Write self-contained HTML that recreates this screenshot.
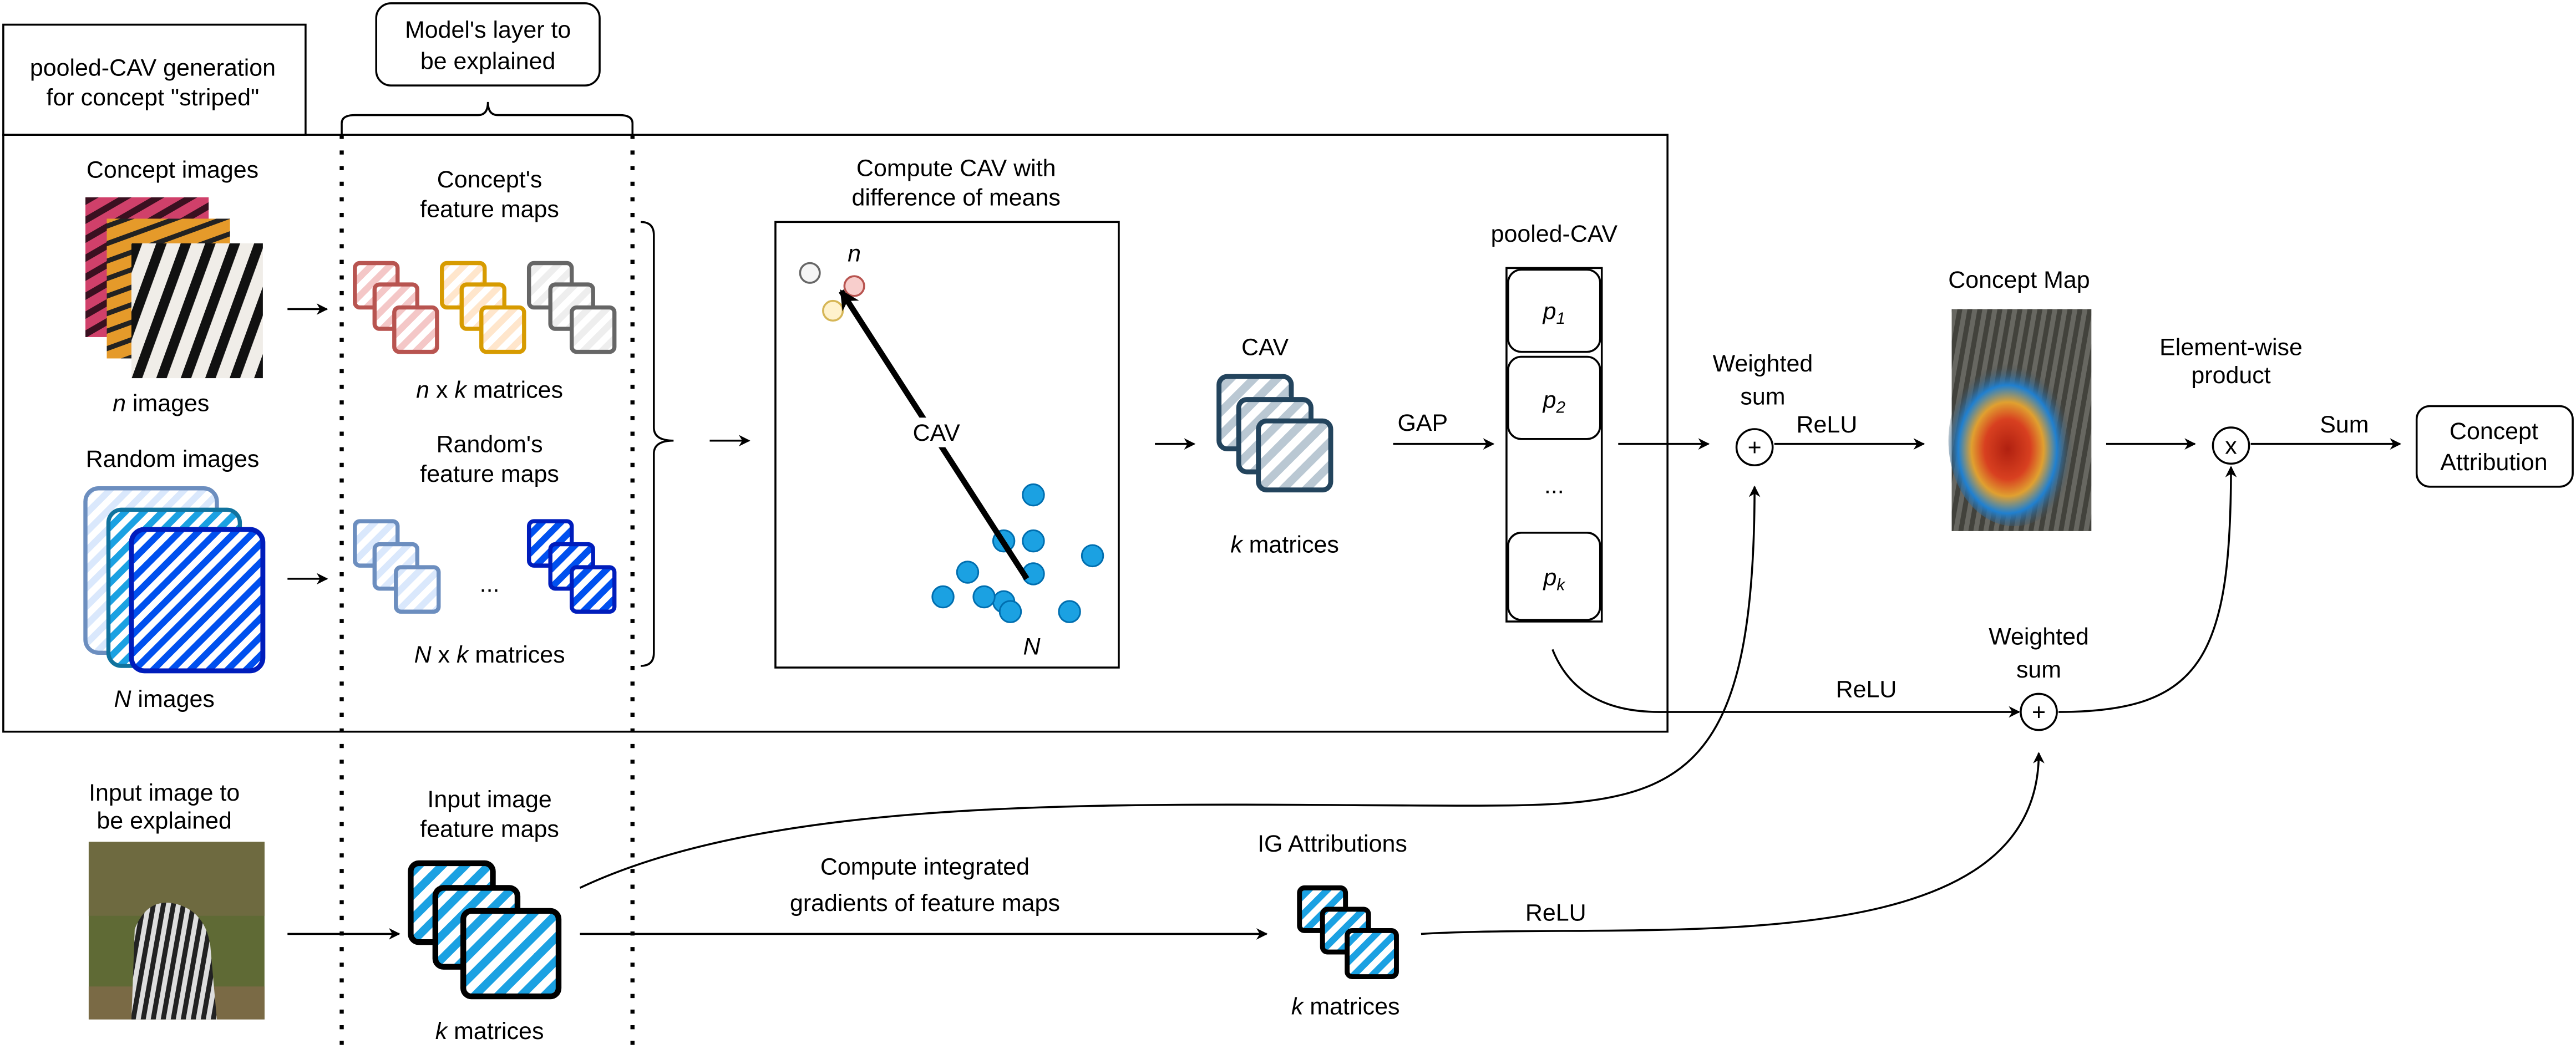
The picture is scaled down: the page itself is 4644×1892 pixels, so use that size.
<!DOCTYPE html>
<html><head><meta charset="utf-8"><style>
html,body{margin:0;padding:0;background:#fff}
svg{display:block}
text{font-family:"Liberation Sans",sans-serif;font-size:14.5px;fill:#000;text-anchor:middle}
.i{font-style:italic}
</style></head><body>
<svg width="4644" height="1892" viewBox="0 0 1568 638" preserveAspectRatio="none" xmlns="http://www.w3.org/2000/svg">
<defs>
<marker id="ar" viewBox="0 0 10 10" refX="9" refY="5" markerWidth="7" markerHeight="7" orient="auto" markerUnits="userSpaceOnUse"><path d="M0,0 L10,5 L0,10 L3,5z" fill="#000"/></marker>
<marker id="ar2" viewBox="0 0 10 10" refX="9" refY="5" markerWidth="12" markerHeight="12" orient="auto" markerUnits="userSpaceOnUse"><path d="M0,0 L10,5 L0,10 L3,5z" fill="#000"/></marker>
<pattern id="pr" width="8" height="8" patternUnits="userSpaceOnUse" patternTransform="rotate(45)"><rect width="8" height="8" fill="#fff"/><rect width="4" height="8" fill="#f4c7c7"/></pattern>
<pattern id="po" width="8" height="8" patternUnits="userSpaceOnUse" patternTransform="rotate(45)"><rect width="8" height="8" fill="#fff"/><rect width="4" height="8" fill="#ffe6cc"/></pattern>
<pattern id="pg" width="8" height="8" patternUnits="userSpaceOnUse" patternTransform="rotate(45)"><rect width="8" height="8" fill="#fff"/><rect width="4" height="8" fill="#eeeeee"/></pattern>
<pattern id="pl" width="8" height="8" patternUnits="userSpaceOnUse" patternTransform="rotate(45)"><rect width="8" height="8" fill="#fff"/><rect width="4" height="8" fill="#dae8fc"/></pattern>
<pattern id="pm" width="8" height="8" patternUnits="userSpaceOnUse" patternTransform="rotate(45)"><rect width="8" height="8" fill="#fff"/><rect width="4" height="8" fill="#1ba1e2"/></pattern>
<pattern id="pd" width="8" height="8" patternUnits="userSpaceOnUse" patternTransform="rotate(45)"><rect width="8" height="8" fill="#fff"/><rect width="4" height="8" fill="#0050ef"/></pattern>
<pattern id="pc" width="10" height="10" patternUnits="userSpaceOnUse" patternTransform="rotate(45)"><rect width="10" height="10" fill="#fff"/><rect width="5" height="10" fill="#bac8d3"/></pattern>
<pattern id="pb" width="10" height="10" patternUnits="userSpaceOnUse" patternTransform="rotate(45)"><rect width="10" height="10" fill="#fff"/><rect width="5" height="10" fill="#1ba1e2"/></pattern>
<pattern id="zeb" width="14" height="14" patternUnits="userSpaceOnUse" patternTransform="rotate(20)"><rect width="14" height="14" fill="#f0ede8"/><rect width="6" height="14" fill="#111"/></pattern>
<pattern id="tig" width="10" height="10" patternUnits="userSpaceOnUse" patternTransform="rotate(70)"><rect width="10" height="10" fill="#e59a2a"/><rect width="3" height="10" fill="#222"/></pattern>
<pattern id="pnk" width="10" height="10" patternUnits="userSpaceOnUse" patternTransform="rotate(60)"><rect width="10" height="10" fill="#d0406a"/><rect width="4" height="10" fill="#3a1020"/></pattern>
<pattern id="zsm" width="6" height="6" patternUnits="userSpaceOnUse" patternTransform="rotate(10)"><rect width="6" height="6" fill="#ddd"/><rect width="3" height="6" fill="#222"/></pattern>
<radialGradient id="heat" cx="0.45" cy="0.55" r="0.5"><stop offset="0" stop-color="#b02010"/><stop offset="0.35" stop-color="#d84020"/><stop offset="0.55" stop-color="#e0a030"/><stop offset="0.75" stop-color="#2080d0"/><stop offset="1" stop-color="#4a4a45" stop-opacity="0"/></radialGradient>
</defs>

<rect x="2" y="15" width="184" height="67" fill="none" stroke="#000" stroke-width="1.2"/>
<text x="93" y="46">pooled-CAV generation</text>
<text x="93" y="64">for concept "striped"</text>
<rect x="2" y="82" width="1013" height="363" fill="none" stroke="#000" stroke-width="1.2"/>
<rect x="229" y="2" width="136" height="50" rx="9" fill="#fff" stroke="#000" stroke-width="1.2"/>
<text x="297" y="23">Model's layer to</text>
<text x="297" y="42">be explained</text>
<path d="M208,82 V75 Q208,70 216,70 H291 Q297,70 297,62 Q297,70 303,70 H377 Q385,70 385,75 V82" fill="none" stroke="#000" stroke-width="1.2"/>
<line x1="208" y1="82" x2="208" y2="638" stroke="#000" stroke-width="2.5" stroke-dasharray="2.5,7"/>
<line x1="385" y1="82" x2="385" y2="638" stroke="#000" stroke-width="2.5" stroke-dasharray="2.5,7"/>

<text x="105" y="108">Concept images</text>
<rect x="52" y="120" width="75" height="85" fill="url(#pnk)"/>
<rect x="65" y="133" width="75" height="85" fill="url(#tig)"/>
<rect x="80" y="148" width="80" height="82" fill="url(#zeb)"/>
<text x="98" y="250"><tspan class="i">n</tspan> images</text>
<line x1="175" y1="188" x2="199" y2="188" stroke="#000" stroke-width="1.2" marker-end="url(#ar)"/>

<text x="105" y="284">Random images</text>
<rect x="52" y="297" width="80" height="100" rx="8" fill="url(#pl)" stroke="#6c8ebf" stroke-width="2.5"/>
<rect x="66" y="310" width="80" height="95" rx="8" fill="url(#pm)" stroke="#10739e" stroke-width="2.5"/>
<rect x="80" y="322" width="80" height="86" rx="8" fill="url(#pd)" stroke="#001dbc" stroke-width="3"/>
<text x="100" y="430"><tspan class="i">N</tspan> images</text>
<line x1="175" y1="352" x2="199" y2="352" stroke="#000" stroke-width="1.2" marker-end="url(#ar)"/>

<text x="298" y="114">Concept's</text>
<text x="298" y="132">feature maps</text>
<g stroke-width="2.5">
<rect x="216" y="160" width="26" height="27" rx="3" fill="url(#pr)" stroke="#b85450"/>
<rect x="228" y="173" width="26" height="27" rx="3" fill="url(#pr)" stroke="#b85450"/>
<rect x="240" y="187" width="26" height="27" rx="3" fill="url(#pr)" stroke="#b85450"/>
<rect x="269" y="160" width="26" height="27" rx="3" fill="url(#po)" stroke="#d79b00"/>
<rect x="281" y="173" width="26" height="27" rx="3" fill="url(#po)" stroke="#d79b00"/>
<rect x="293" y="187" width="26" height="27" rx="3" fill="url(#po)" stroke="#d79b00"/>
<rect x="322" y="160" width="26" height="27" rx="3" fill="url(#pg)" stroke="#666"/>
<rect x="335" y="173" width="26" height="27" rx="3" fill="url(#pg)" stroke="#666"/>
<rect x="348" y="187" width="26" height="27" rx="3" fill="url(#pg)" stroke="#666"/>
</g>
<text x="298" y="242"><tspan class="i">n</tspan> x <tspan class="i">k</tspan> matrices</text>

<text x="298" y="275">Random's</text>
<text x="298" y="293">feature maps</text>
<g stroke-width="2.5">
<rect x="216" y="317" width="26" height="27" rx="3" fill="url(#pl)" stroke="#6c8ebf"/>
<rect x="228" y="331" width="26" height="27" rx="3" fill="url(#pl)" stroke="#6c8ebf"/>
<rect x="241" y="345" width="26" height="27" rx="3" fill="url(#pl)" stroke="#6c8ebf"/>
<rect x="322" y="317" width="26" height="27" rx="3" fill="url(#pd)" stroke="#001dbc"/>
<rect x="335" y="331" width="26" height="27" rx="3" fill="url(#pd)" stroke="#001dbc"/>
<rect x="348" y="345" width="26" height="27" rx="3" fill="url(#pd)" stroke="#001dbc"/>
</g>
<text x="298" y="360">...</text>
<text x="298" y="403"><tspan class="i">N</tspan> x <tspan class="i">k</tspan> matrices</text>

<path d="M390,135 Q398,135 398,143 V260 Q398,268 410,268 Q398,268 398,276 V397 Q398,405 390,405" fill="none" stroke="#000" stroke-width="1.2"/>
<line x1="432" y1="268" x2="456" y2="268" stroke="#000" stroke-width="1.2" marker-end="url(#ar)"/>

<text x="582" y="107">Compute CAV with</text>
<text x="582" y="125">difference of means</text>
<rect x="472" y="135" width="209" height="271" fill="none" stroke="#000" stroke-width="1.2"/>
<text x="520" y="159" class="i">n</text>
<circle cx="493" cy="166" r="6" fill="#f5f5f5" stroke="#666" stroke-width="1.2"/>
<circle cx="520" cy="174" r="6" fill="#f8cecc" stroke="#b85450" stroke-width="1.2"/>
<circle cx="507" cy="189" r="6" fill="#fff2cc" stroke="#d6b656" stroke-width="1.2"/>
<g fill="#1ba1e2" stroke="#006eaf" stroke-width="1">
<circle cx="629" cy="301" r="6.5"/><circle cx="611" cy="329" r="6.5"/><circle cx="629" cy="329" r="6.5"/>
<circle cx="665" cy="338" r="6.5"/><circle cx="589" cy="348" r="6.5"/><circle cx="629" cy="349" r="6.5"/>
<circle cx="611" cy="366" r="6.5"/><circle cx="574" cy="363" r="6.5"/><circle cx="599" cy="363" r="6.5"/>
<circle cx="615" cy="372" r="6.5"/><circle cx="651" cy="372" r="6.5"/>
</g>
<line x1="625" y1="352" x2="512" y2="177" stroke="#000" stroke-width="3.5" marker-end="url(#ar2)"/>
<rect x="553" y="254" width="36" height="18" fill="#fff"/>
<text x="570" y="268">CAV</text>
<text x="628" y="398" class="i">N</text>
<line x1="703" y1="270" x2="727" y2="270" stroke="#000" stroke-width="1.2" marker-end="url(#ar)"/>

<text x="770" y="216">CAV</text>
<g stroke="#23445d" stroke-width="3">
<rect x="742" y="229" width="44" height="44" rx="5" fill="url(#pc)"/>
<rect x="754" y="243" width="44" height="44" rx="5" fill="url(#pc)"/>
<rect x="766" y="256" width="44" height="42" rx="5" fill="url(#pc)"/>
</g>
<text x="782" y="336"><tspan class="i">k</tspan> matrices</text>
<text x="866" y="262">GAP</text>
<line x1="848" y1="270" x2="909" y2="270" stroke="#000" stroke-width="1.2" marker-end="url(#ar)"/>

<text x="946" y="147">pooled-CAV</text>
<rect x="917" y="163" width="58" height="215" fill="#fff" stroke="#000" stroke-width="1.2"/>
<g fill="#fff" stroke="#000" stroke-width="1.2">
<rect x="918" y="164" width="56" height="50" rx="8"/>
<rect x="918" y="217" width="56" height="50" rx="8"/>
<rect x="918" y="324" width="56" height="53" rx="8"/>
</g>
<text x="946" y="194" class="i">p<tspan font-size="10" dy="3">1</tspan></text>
<text x="946" y="248" class="i">p<tspan font-size="10" dy="3">2</tspan></text>
<text x="946" y="300">...</text>
<text x="946" y="356" class="i">p<tspan font-size="10" dy="3">k</tspan></text>
<line x1="985" y1="270" x2="1040" y2="270" stroke="#000" stroke-width="1.2" marker-end="url(#ar)"/>

<text x="1073" y="226">Weighted</text>
<text x="1073" y="246">sum</text>
<circle cx="1068" cy="272" r="11" fill="#fff" stroke="#000" stroke-width="1.2"/>
<text x="1068" y="277" font-size="12">+</text>
<text x="1112" y="263">ReLU</text>
<line x1="1080" y1="270" x2="1171" y2="270" stroke="#000" stroke-width="1.2" marker-end="url(#ar)"/>

<text x="1229" y="175">Concept Map</text>
<rect x="1188" y="188" width="85" height="135" fill="#4a4a42"/>
<rect x="1188" y="188" width="85" height="135" fill="url(#zsm)" opacity="0.2"/>
<ellipse cx="1226" cy="268" rx="40" ry="52" fill="url(#heat)"/>
<line x1="1282" y1="270" x2="1336" y2="270" stroke="#000" stroke-width="1.2" marker-end="url(#ar)"/>
<text x="1358" y="216">Element-wise</text>
<text x="1358" y="233">product</text>
<circle cx="1358" cy="271" r="11" fill="#fff" stroke="#000" stroke-width="1.2"/>
<text x="1358" y="276" font-size="12">x</text>
<text x="1427" y="263">Sum</text>
<line x1="1370" y1="270" x2="1461" y2="270" stroke="#000" stroke-width="1.2" marker-end="url(#ar)"/>
<rect x="1471" y="247" width="95" height="49" rx="8" fill="#fff" stroke="#000" stroke-width="1.2"/>
<text x="1518" y="267">Concept</text>
<text x="1518" y="286">Attribution</text>

<text x="1241" y="392">Weighted</text>
<text x="1241" y="412">sum</text>
<circle cx="1241" cy="433" r="11" fill="#fff" stroke="#000" stroke-width="1.2"/>
<text x="1241" y="438" font-size="12">+</text>
<path d="M945,395 Q960,433 1010,433 L1229,433" fill="none" stroke="#000" stroke-width="1.2" marker-end="url(#ar)"/>
<text x="1136" y="424">ReLU</text>
<path d="M1253,433 C1340,433 1358,400 1358,284" fill="none" stroke="#000" stroke-width="1.2" marker-end="url(#ar)"/>

<text x="100" y="487">Input image to</text>
<text x="100" y="504">be explained</text>
<rect x="54" y="512" width="107" height="108" fill="#5f6a35"/>
<rect x="54" y="512" width="107" height="45" fill="#6e6a40"/>
<rect x="54" y="600" width="107" height="20" fill="#7a6a45"/>
<path d="M82,565 Q90,545 108,550 Q125,555 128,575 L132,620 L80,620 Z" fill="url(#zsm)"/>
<line x1="175" y1="568" x2="243" y2="568" stroke="#000" stroke-width="1.2" marker-end="url(#ar)"/>
<text x="298" y="491">Input image</text>
<text x="298" y="509">feature maps</text>
<g stroke="#000" stroke-width="3.5">
<rect x="250" y="525" width="50" height="48" rx="5" fill="url(#pb)"/>
<rect x="265" y="540" width="50" height="48" rx="5" fill="url(#pb)"/>
<rect x="282" y="554" width="58" height="52" rx="5" fill="url(#pb)"/>
</g>
<text x="298" y="632"><tspan class="i">k</tspan> matrices</text>
<path d="M353,540 C480,480 700,490 900,490 C1020,490 1068,480 1068,296" fill="none" stroke="#000" stroke-width="1.2" marker-end="url(#ar)"/>
<line x1="353" y1="568" x2="771" y2="568" stroke="#000" stroke-width="1.2" marker-end="url(#ar)"/>
<text x="563" y="532">Compute integrated</text>
<text x="563" y="554">gradients of feature maps</text>

<text x="811" y="518">IG Attributions</text>
<g stroke="#000" stroke-width="3">
<rect x="791" y="540" width="28" height="26" rx="3" fill="url(#pm)"/>
<rect x="805" y="553" width="28" height="26" rx="3" fill="url(#pm)"/>
<rect x="820" y="566" width="30" height="28" rx="3" fill="url(#pm)"/>
</g>
<text x="819" y="617"><tspan class="i">k</tspan> matrices</text>
<path d="M865,568 C1000,560 1241,590 1241,458" fill="none" stroke="#000" stroke-width="1.2" marker-end="url(#ar)"/>
<text x="947" y="560">ReLU</text>
</svg>
</body></html>
